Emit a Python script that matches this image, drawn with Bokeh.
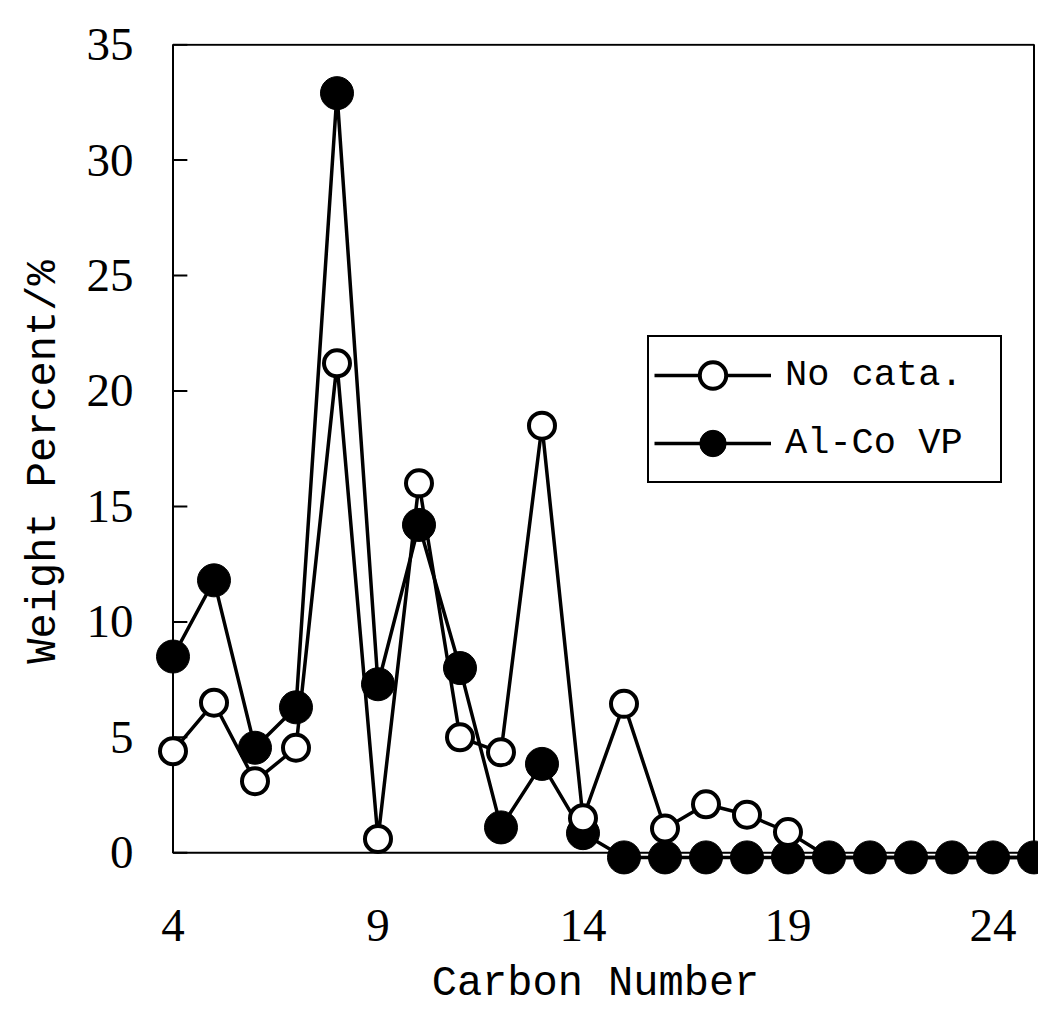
from bokeh.plotting import figure
from bokeh.models import (Range1d, FixedTicker, BoxAnnotation, Legend, LegendItem,
                          ColumnDataSource, CDSView, IndexFilter)
from bokeh.embed import file_html
from bokeh.resources import INLINE

# ---- data ----
carbon = list(range(4, 26))
no_cata = [4.4, 6.5, 3.1, 4.55, 21.2, 0.6, 16.0, 5.0, 4.35, 18.5, 1.5, 6.45, 1.05, 2.1, 1.65, 0.9,
           -0.2, -0.2, -0.2, -0.2, -0.2, -0.2]
al_co_vp = [8.5, 11.8, 4.55, 6.3, 32.9, 7.3, 14.2, 8.0, 1.1, 3.85, 0.85,
            -0.2, -0.2, -0.2, -0.2, -0.2, -0.2, -0.2, -0.2, -0.2, -0.2, -0.2]
x_ticks = [4, 9, 14, 19, 24]
y_ticks = [0, 5, 10, 15, 20, 25, 30, 35]
series_names = ["No cata.", "Al-Co VP"]
x_title = "Carbon Number"
y_title = "Weight Percent/%"

p = figure(width=1038, height=1011,
           x_range=Range1d(3.5, 25.11), y_range=Range1d(-1.2, 35.05),
           output_backend="svg", toolbar_location=None,
           min_border_left=152, min_border_right=0, min_border_top=43, min_border_bottom=131)
p.xgrid.visible = False
p.ygrid.visible = False
p.outline_line_color = None
p.background_fill_color = "white"
p.border_fill_color = "white"

# frame drawn at the data limits
frame = BoxAnnotation(left=4, right=25, bottom=0, top=35, fill_color=None, fill_alpha=0,
                      line_color="black", line_alpha=1.0, line_width=2, level="underlay")
p.add_layout(frame)

xa = p.xaxis[0]
xa.ticker = FixedTicker(ticks=x_ticks)
xa.axis_line_color = None
xa.major_tick_in = 0
xa.major_tick_out = 0
xa.minor_tick_line_color = None
xa.major_label_standoff = 29
xa.major_label_text_font = "Liberation Serif"
xa.major_label_text_font_size = "47px"
xa.major_label_text_color = "black"
xa.axis_label = x_title
xa.axis_label_standoff = 16
xa.axis_label_text_font = "Liberation Mono"
xa.axis_label_text_font_size = "42px"
xa.axis_label_text_font_style = "normal"
xa.axis_label_text_color = "black"

ya = p.yaxis[0]
ya.ticker = FixedTicker(ticks=y_ticks)
ya.axis_line_color = None
ya.major_tick_in = 0
ya.major_tick_out = 0
ya.minor_tick_line_color = None
ya.major_label_standoff = 19
ya.major_label_text_font = "Liberation Serif"
ya.major_label_text_font_size = "47px"
ya.major_label_text_color = "black"
ya.axis_label = y_title
ya.axis_label_standoff = 16
ya.axis_label_text_font = "Liberation Mono"
ya.axis_label_text_font_size = "42px"
ya.axis_label_text_font_style = "normal"
ya.axis_label_text_color = "black"

# small inward tick marks on the frame's left side, at the y tick values
tick_src = ColumnDataSource(dict(x0=[4] * len(y_ticks), x1=[4.35] * len(y_ticks), y=y_ticks))
p.segment(x0="x0", y0="y", x1="x1", y1="y", source=tick_src, line_color="black", line_width=2)

src = ColumnDataSource(dict(carbon=carbon, no_cata=no_cata, al_co_vp=al_co_vp))

r_fl = p.line("carbon", "al_co_vp", source=src, line_color="black", line_width=3.5)
r_fs = p.scatter("carbon", "al_co_vp", source=src, marker="circle", size=33,
                 fill_color="black", line_color="black", line_width=1)
r_ol = p.line("carbon", "no_cata", source=src, line_color="black", line_width=3.5)
shown = [i for i, v in enumerate(no_cata) if v >= 0]
r_os = p.scatter("carbon", "no_cata", source=src, view=CDSView(filter=IndexFilter(indices=shown)),
                 marker="circle", size=26, fill_color="white", line_color="black", line_width=4)

legend = Legend(items=[LegendItem(label=series_names[0], renderers=[r_ol, r_os]),
                       LegendItem(label=series_names[1], renderers=[r_fl, r_fs])],
                location=(495, 397), margin=0, padding=5, spacing=2,
                glyph_width=117, glyph_height=66, label_standoff=14, label_width=210,
                label_text_font="Liberation Mono", label_text_font_size="37px",
                label_text_color="black",
                border_line_color="black", border_line_alpha=1.0, border_line_width=2,
                background_fill_color="white", background_fill_alpha=1.0)
p.add_layout(legend)

open("out.html", "w").write(file_html(p, INLINE))
